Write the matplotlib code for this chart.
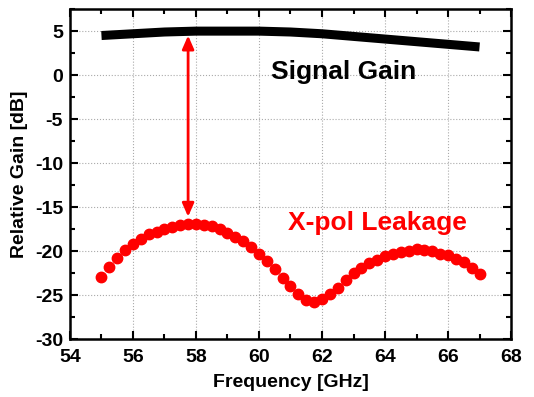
import numpy as np
import matplotlib.pyplot as plt
from matplotlib.ticker import MultipleLocator

plt.rcParams['font.family'] = 'Liberation Sans'
plt.rcParams['font.weight'] = 'bold'
plt.rcParams['axes.unicode_minus'] = False

# signal gain (dB)
sig_f = [55, 56, 57, 58, 59, 60, 61, 62, 63, 64, 65, 66, 67]
sig_g = [4.5, 4.7, 4.9, 5.0, 5.0, 5.0, 4.9, 4.7, 4.4, 4.1, 3.8, 3.5, 3.2]

# cross-pol leakage (dB), 0.25 GHz steps
xp_f = np.arange(55, 67.01, 0.25)
xp_g = [-22.9, -21.8, -20.8, -19.9, -19.2, -18.6, -18.1, -17.8, -17.5, -17.3,
        -17.0, -16.9, -16.9, -17.0, -17.2, -17.5, -17.9, -18.4, -18.9, -19.5,
        -20.3, -21.1, -22.0, -23.1, -24.0, -24.9, -25.6, -25.8, -25.5, -24.9,
        -24.2, -23.3, -22.5, -21.9, -21.4, -21.0, -20.6, -20.3, -20.1, -20.0,
        -19.8, -19.9, -20.0, -20.3, -20.5, -20.9, -21.3, -21.9, -22.6]

fig = plt.figure(figsize=(5.34, 3.97), dpi=100)
ax = fig.add_axes([0.131, 0.146, 0.826, 0.831])

ax.plot(sig_f, sig_g, color='black', lw=6.5, solid_capstyle='butt')
ax.plot(xp_f, xp_g, 'o', color='red', ms=7.5, mec='red')

ax.annotate('', xy=(57.75, 4.5), xytext=(57.75, -16.1),
            arrowprops=dict(arrowstyle='<|-|>,head_length=0.8,head_width=0.35',
                            color='red', lw=2, mutation_scale=10,
                            shrinkA=0, shrinkB=0))

ax.text(62.7, 0.3, 'Signal Gain', fontsize=19, fontweight='bold',
        ha='center', va='center', color='black')
ax.text(63.75, -16.8, 'X-pol Leakage', fontsize=19, fontweight='bold',
        ha='center', va='center', color='red')

ax.set_xlim(54, 68)
ax.set_ylim(-30, 7.5)
ax.xaxis.set_major_locator(MultipleLocator(2))
ax.xaxis.set_minor_locator(MultipleLocator(1))
ax.set_yticks([5, 0, -5, -10, -15, -20, -25, -30])
ax.yaxis.set_minor_locator(MultipleLocator(2.5))
ax.grid(True, which='major', ls=':', color='#aaaaaa', lw=0.8)
ax.tick_params(which='both', direction='in', top=True, right=True, width=1.5,
               labelsize=14)
ax.tick_params(axis='x', which='major', pad=7)
ax.tick_params(axis='y', which='major', pad=5)
ax.tick_params(which='major', length=6)
ax.tick_params(which='minor', length=3.5)
for lab in ax.get_xticklabels() + ax.get_yticklabels():
    lab.set_fontweight('bold')
for s in ax.spines.values():
    s.set_linewidth(1.8)

ax.set_xlabel('Frequency [GHz]', fontsize=14, fontweight='bold', labelpad=6)
ax.set_ylabel('Relative Gain [dB]', fontsize=14, fontweight='bold', labelpad=5)

plt.savefig('out.png')
